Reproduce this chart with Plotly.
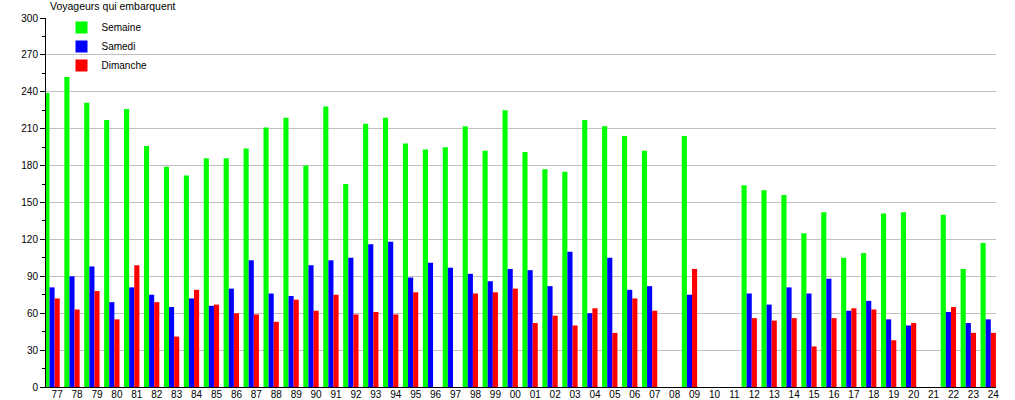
import plotly.graph_objects as go

years = ["77","78","79","80","81","82","83","84","85","86","87","88","89","90","91",
         "92","93","94","95","96","97","98","99","00","01","02","03","04","05","06","07",
         "08","09","10","11","12","13","14","15","16","17","18","19","20","21","22","23","24"]

semaine = [239,252,231,217,226,196,179,172,186,186,194,211,219,180,228,
           165,214,219,198,193,195,212,192,225,191,177,175,217,212,204,192,
           None,204,None,None,164,160,156,125,142,105,109,141,142,None,140,96,117]

samedi = [81,90,98,69,81,75,65,72,66,80,103,76,74,99,103,
          105,116,118,89,101,97,92,86,96,95,82,110,60,105,79,82,
          None,75,None,None,76,67,81,76,88,62,70,55,50,None,61,52,55]

dimanche = [72,63,78,55,99,69,41,79,67,60,59,53,71,62,75,
            59,61,59,77,None,None,76,77,80,52,58,50,64,44,72,62,
            None,96,None,None,56,54,56,33,56,64,63,38,52,None,65,44,44]

series_names = ["Semaine", "Samedi", "Dimanche"]
series_colors = ["#00ff00", "#0000ff", "#ff0000"]

idx = list(range(len(years)))
bargap = 0.23
bar_w = (1 - bargap) / 3

fig = go.Figure()
for name, vals, col in zip(series_names, [semaine, samedi, dimanche], series_colors):
    fig.add_trace(go.Bar(x=idx, y=vals, name=name, marker=dict(color=col, line=dict(width=0))))

FONT = "Liberation Sans, Arial, sans-serif"
PLOT_H = 400 - 18 - 13

fig.update_layout(
    width=1015, height=400,
    margin=dict(l=46, r=19, t=18, b=13, autoexpand=False),
    barmode="group", bargap=bargap, bargroupgap=0,
    plot_bgcolor="white", paper_bgcolor="white",
    font=dict(family=FONT, size=10, color="#000000"),
    showlegend=True,
    legend=dict(x=(61.5 - 46) / 950, y=1 + 5 / PLOT_H, xanchor="left", yanchor="top",
                bgcolor="rgba(0,0,0,0)", font=dict(size=10, family=FONT),
                itemwidth=30, tracegroupgap=0),
    xaxis=dict(
        range=[-0.304, 47.39],
        tickmode="array",
        tickvals=[i + bar_w for i in idx],
        ticktext=years,
        showgrid=False, zeroline=False,
        showline=True, linecolor="#000000", linewidth=1,
        ticks="", automargin=False, ticklabelstandoff=-2,
        tickfont=dict(size=10, family=FONT),
    ),
    yaxis=dict(
        range=[0, 300],
        tickmode="linear", tick0=0, dtick=30,
        showgrid=True, gridcolor="#c0c0c0", gridwidth=1,
        zeroline=False,
        showline=True, linecolor="#000000", linewidth=1,
        ticks="outside", ticklen=5, tickcolor="#000000",
        minor=dict(dtick=15, ticks="outside", ticklen=3, tickcolor="#000000", showgrid=False),
        automargin=False,
        tickfont=dict(size=10, family=FONT),
    ),
    annotations=[dict(
        text="Voyageurs qui embarquent", xref="paper", yref="paper",
        x=(48 - 46) / 950, y=1 + (18 - 6.5) / PLOT_H, xanchor="left", yanchor="middle",
        showarrow=False, font=dict(size=10.5, family=FONT, color="#000000"),
    )],
)

fig.write_html("out.html", config={"displayModeBar": False},
               post_script="document.body.style.margin='0px';")
